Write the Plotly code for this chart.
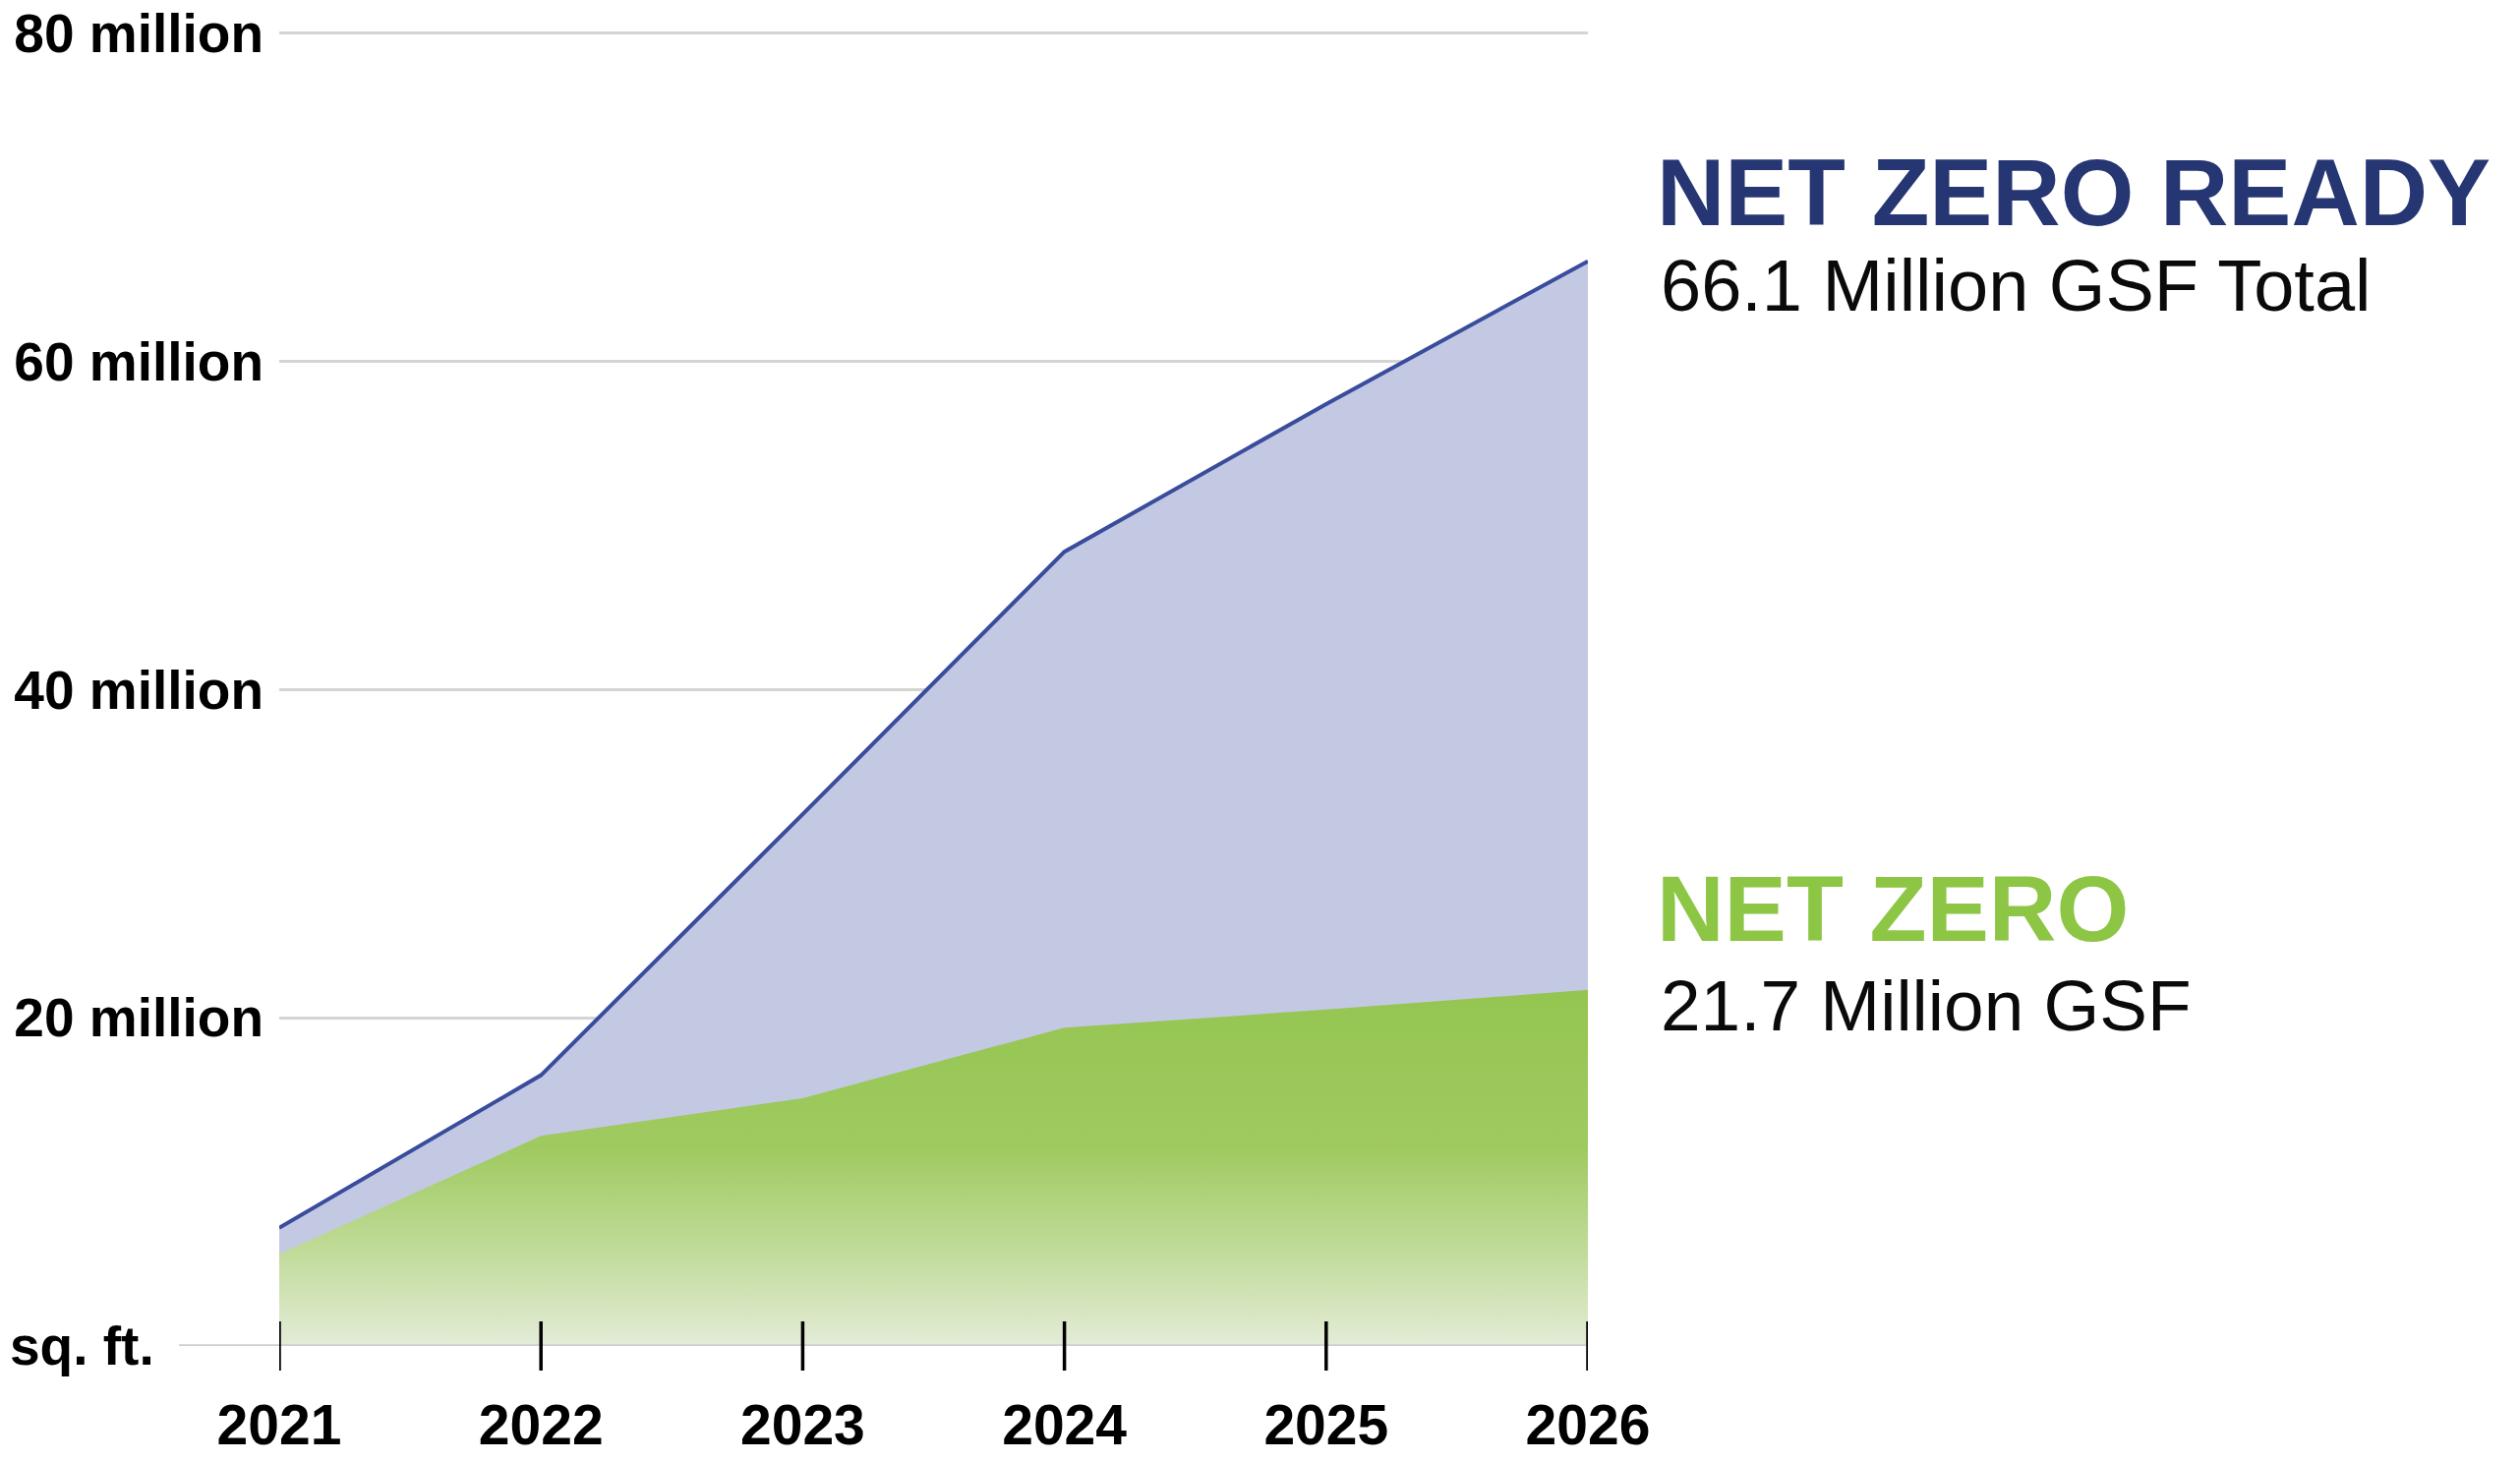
import plotly.graph_objects as go

# data (millions of gross sq. ft.)
years = [2021, 2022, 2023, 2024, 2025, 2026]
net_zero_ready = [7.2, 16.5, 32.4, 48.4, 57.4, 66.1]
net_zero = [5.6, 12.8, 15.1, 19.4, 20.5, 21.7]

y_ticks = [0, 20, 40, 60, 80]
y_tick_labels = ["", "20 million", "40 million", "60 million", "80 million"]
unit_label = "sq. ft."

NAVY = "#253673"
LINE_BLUE = "#3a4c9c"
LAVENDER = "#c3c9e3"
GREEN = "#8dc645"
FONT = "Liberation Sans"

fig = go.Figure()

# net zero ready area (drawn first, down to zero)
fig.add_trace(go.Scatter(
    x=years, y=net_zero_ready,
    mode="lines",
    line=dict(color=LINE_BLUE, width=4),
    fill="tozeroy",
    fillcolor=LAVENDER,
    hoverinfo="skip",
))

# net zero area, fading out towards the baseline
fig.add_trace(go.Scatter(
    x=years, y=net_zero,
    mode="lines",
    line=dict(width=0, color="#95c550"),
    fill="tozeroy",
    fillgradient=dict(
        type="vertical",
        start=0, stop=22,
        colorscale=[[0, "#e4ecd8"], [0.25, "#c2dc9c"], [0.55, "#9fca60"], [1, "#94c550"]],
    ),
    hoverinfo="skip",
))

# baseline running out under the y labels
fig.add_shape(type="line", xref="paper", yref="y",
              x0=-0.0766, x1=1, y0=0, y1=0,
              line=dict(color="#cfcfcf", width=3.5), layer="above")

# tick marks crossing the baseline
for yr in years:
    fig.add_shape(type="line", xref="x", yref="paper",
                  x0=yr, x1=yr, y0=-0.0185, y1=0.0185,
                  line=dict(color="black", width=3.5), layer="above")

# unit label sits left-aligned at the baseline
fig.add_annotation(xref="paper", yref="y", x=-0.207, y=0,
                   xanchor="left", yanchor="middle", showarrow=False,
                   text=f"<b>{unit_label}</b>",
                   font=dict(family=FONT, size=55, color="black"))

# right side labels
fig.add_annotation(xref="paper", yref="paper", x=1.051, y=0.868,
                   xanchor="left", yanchor="middle", showarrow=False,
                   text="<b>NET ZERO READY</b>",
                   font=dict(family=FONT, size=96, color=NAVY))
fig.add_annotation(xref="paper", yref="paper", x=1.054, y=0.798,
                   xanchor="left", yanchor="middle", showarrow=False,
                   text="66.1 Million GSF Total",
                   font=dict(family=FONT, size=74, color="#0a0a0a"))
fig.add_annotation(xref="paper", yref="paper", x=1.051, y=0.329,
                   xanchor="left", yanchor="middle", showarrow=False,
                   text="<b>NET ZERO</b>",
                   font=dict(family=FONT, size=95, color=GREEN))
fig.add_annotation(xref="paper", yref="paper", x=1.054, y=0.256,
                   xanchor="left", yanchor="middle", showarrow=False,
                   text="21.7 Million GSF",
                   font=dict(family=FONT, size=73, color="#0a0a0a"))

fig.update_xaxes(
    range=[2021, 2026],
    tickvals=years,
    ticktext=[f"<b>{y}</b>" for y in years],
    tickfont=dict(family=FONT, size=57, color="black"),
    showgrid=False, zeroline=False, showline=False,
    ticks="", ticklabelstandoff=42, automargin=False,
)
fig.update_yaxes(
    range=[0, 81],
    tickvals=y_ticks,
    ticktext=[f"<b>{t}</b>" if t else "" for t in y_tick_labels],
    tickfont=dict(family=FONT, size=55, color="black"),
    showgrid=True, gridcolor="#d4d4d4", gridwidth=2.5,
    zeroline=False, showline=False, ticks="",
    ticklabelstandoff=15, ticklabeloverflow="allow", automargin=False,
)

fig.update_layout(
    width=2563, height=1487,
    margin=dict(l=276, r=956, t=9, b=126),
    plot_bgcolor="white", paper_bgcolor="white",
    showlegend=False,
)

fig.write_html("out.html")
